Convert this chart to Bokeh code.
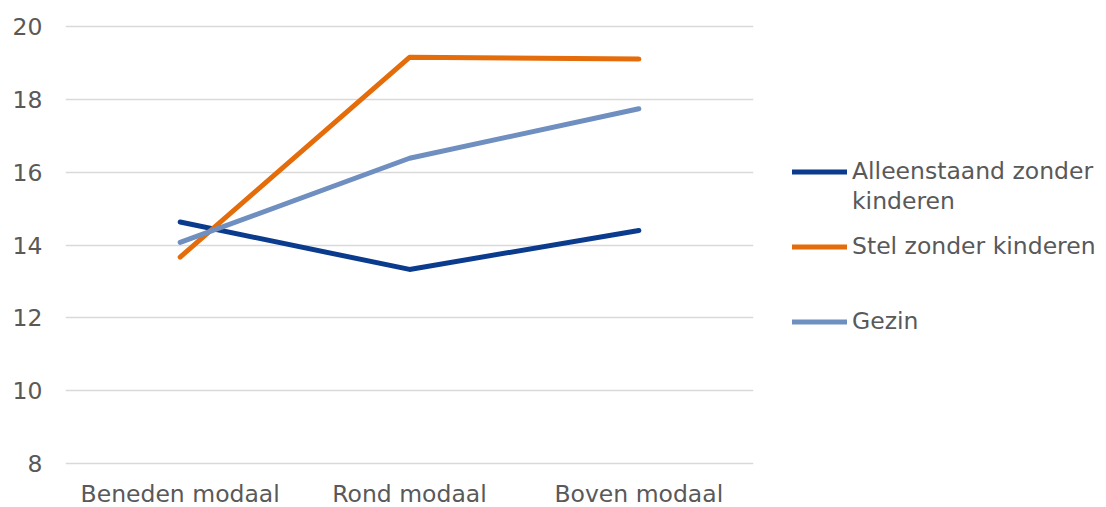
from bokeh.plotting import figure
from bokeh.models import Range1d, FactorRange, Legend, LegendItem, FixedTicker
from bokeh.embed import file_html
from bokeh.resources import INLINE

categories = ["Beneden modaal", "Rond modaal", "Boven modaal"]
alleenstaand = [14.63, 13.33, 14.40]
stel = [13.67, 19.15, 19.10]
gezin = [14.07, 16.38, 17.74]
series_colors = ["#0B3B8C", "#E46C0A", "#6F8FC0"]
y_ticks = [8, 10, 12, 14, 16, 18, 20]

FONT = "DejaVu Sans"
TXT = "#595959"
FS = "23.5px"

p = figure(
    x_range=FactorRange(factors=categories, range_padding=0),
    y_range=Range1d(7.95, 20.05),
    frame_width=688, frame_height=441,
    min_border_left=65, min_border_right=353, min_border_top=24, min_border_bottom=42,
    output_backend="svg", toolbar_location=None,
)
p.outline_line_color = None
p.background_fill_color = "white"
p.border_fill_color = "white"

for ax in (p.xaxis[0], p.yaxis[0]):
    ax.axis_line_color = None
    ax.major_tick_line_color = None
    ax.minor_tick_line_color = None
    ax.major_tick_out = 0
    ax.major_tick_in = 0
    ax.minor_tick_out = 0
    ax.major_label_text_font = FONT
    ax.major_label_text_font_size = FS
    ax.major_label_text_color = TXT
p.yaxis[0].ticker = FixedTicker(ticks=y_ticks)
p.yaxis[0].major_label_standoff = 23
p.xaxis[0].major_label_standoff = 14

p.xgrid.grid_line_color = None
p.ygrid.grid_line_color = "#D9D9D9"
p.ygrid.grid_line_width = 1.5
p.ygrid.ticker = FixedTicker(ticks=y_ticks)

renderers = []
for vals, col in zip([alleenstaand, stel, gezin], series_colors):
    r = p.line(categories, vals, line_color=col, line_width=5,
               line_cap="round", line_join="round")
    renderers.append(r)

# legend rows; short blank rows give the reference's spacing
def blank():
    return LegendItem(label=" ", renderers=[])

rows = [
    LegendItem(label="Alleenstaand zonder", renderers=[renderers[0]]),
    LegendItem(label="kinderen", renderers=[]),
    blank(),
    LegendItem(label="Stel zonder kinderen", renderers=[renderers[1]]),
    blank(), blank(), blank(),
    LegendItem(label="Gezin", renderers=[renderers[2]]),
]

lg = Legend(items=rows, location=(39, 130), padding=0, margin=0, spacing=2,
            border_line_color=None, background_fill_alpha=0,
            glyph_width=55, glyph_height=13, label_height=13, label_standoff=5,
            label_text_font=FONT, label_text_font_size=FS,
            label_text_color=TXT)
p.add_layout(lg, "right")

open("out.html", "w").write(file_html(p, INLINE))
